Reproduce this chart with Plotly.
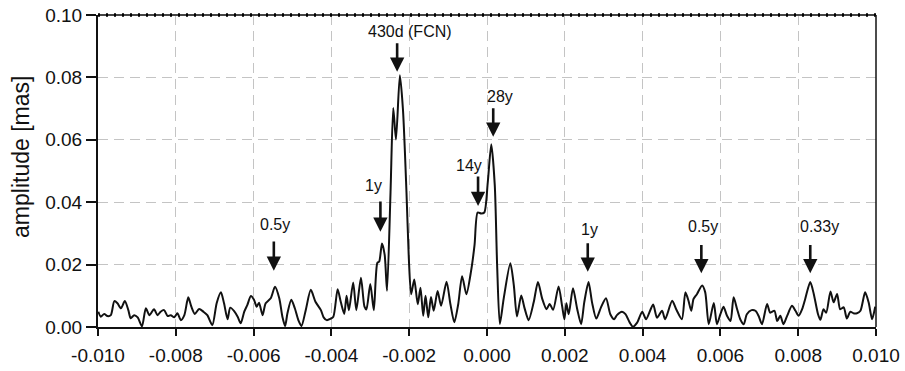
import plotly.graph_objects as go

# ---- data ----
freq = [
    -0.00999, -0.00993, -0.00984, -0.00976, -0.00967, -0.00958, -0.00950, -0.00941, -0.00931, -0.00922,
    -0.00916, -0.00907, -0.00898, -0.00887, -0.00877, -0.00868, -0.00856, -0.00847, -0.00839, -0.00830,
    -0.00821, -0.00813, -0.00804, -0.00796, -0.00787, -0.00778, -0.00768, -0.00760, -0.00751, -0.00740,
    -0.00729, -0.00719, -0.00706, -0.00695, -0.00684, -0.00676, -0.00667, -0.00660, -0.00650, -0.00641,
    -0.00633, -0.00624, -0.00616, -0.00607, -0.00599, -0.00592, -0.00586, -0.00577, -0.00569, -0.00556,
    -0.00545, -0.00534, -0.00526, -0.00519, -0.00513, -0.00503, -0.00494, -0.00485, -0.00477, -0.00466,
    -0.00453, -0.00441, -0.00427, -0.00420, -0.00412, -0.00403, -0.00395, -0.00384, -0.00376, -0.00367,
    -0.00361, -0.00355, -0.00344, -0.00336, -0.00324, -0.00315, -0.00310, -0.00300, -0.00291, -0.00282,
    -0.00277, -0.00270, -0.00263, -0.00257, -0.00248, -0.00241, -0.00234, -0.00224, -0.00216, -0.00207,
    -0.00201, -0.00195, -0.00187, -0.00178, -0.00171, -0.00164, -0.00158, -0.00151, -0.00144, -0.00137,
    -0.00127, -0.00118, -0.00104, -0.00094, -0.00084, -0.00074, -0.00064, -0.00053, -0.00041, -0.00032,
    -0.00024, -0.00015, -0.00007, 0.00002, 0.00011, 0.00020, 0.00026, 0.00033, 0.00043, 0.00060,
    0.00069, 0.00077, 0.00088, 0.00096, 0.00107, 0.00120, 0.00131, 0.00142, 0.00153, 0.00161,
    0.00170, 0.00184, 0.00193, 0.00199, 0.00204, 0.00210, 0.00221, 0.00232, 0.00242, 0.00250,
    0.00261, 0.00270, 0.00281, 0.00293, 0.00306, 0.00317, 0.00327, 0.00334, 0.00347, 0.00356,
    0.00367, 0.00375, 0.00386, 0.00399, 0.00409, 0.00427, 0.00437, 0.00450, 0.00458, 0.00476,
    0.00487, 0.00501, 0.00510, 0.00518, 0.00525, 0.00531, 0.00540, 0.00553, 0.00561, 0.00570,
    0.00583, 0.00591, 0.00600, 0.00608, 0.00617, 0.00626, 0.00634, 0.00643, 0.00651, 0.00660,
    0.00668, 0.00680, 0.00690, 0.00698, 0.00707, 0.00720, 0.00728, 0.00739, 0.00746, 0.00754,
    0.00762, 0.00771, 0.00784, 0.00793, 0.00801, 0.00810, 0.00818, 0.00831, 0.00840, 0.00851,
    0.00857, 0.00865, 0.00872, 0.00883, 0.00891, 0.00900, 0.00908, 0.00917, 0.00925, 0.00934,
    0.00942, 0.00951, 0.00960, 0.00972, 0.00981, 0.00990, 0.00998,
]
amp = [
    0.0049, 0.0033, 0.0042, 0.0035, 0.0038, 0.0083, 0.0076, 0.0060, 0.0083, 0.0054,
    0.0028, 0.0038, 0.0031, 0.0002, 0.0060, 0.0038, 0.0057, 0.0038, 0.0049, 0.0054,
    0.0035, 0.0038, 0.0031, 0.0044, 0.0022, 0.0038, 0.0095, 0.0065, 0.0042, 0.0058,
    0.0049, 0.0038, 0.0006, 0.0076, 0.0111, 0.0076, 0.0025, 0.0062, 0.0051, 0.0033,
    0.0012, 0.0049, 0.0071, 0.0099, 0.0087, 0.0065, 0.0078, 0.0038, 0.0076, 0.0092,
    0.0129, 0.0092, 0.0033, 0.0003, 0.0044, 0.0087, 0.0060, 0.0022, 0.0003, 0.0054,
    0.0119, 0.0081, 0.0054, 0.0031, 0.0022, 0.0026, 0.0033, 0.0121, 0.0081, 0.0042,
    0.0100, 0.0054, 0.0143, 0.0054, 0.0158, 0.0065, 0.0056, 0.0138, 0.0054, 0.0205,
    0.0210, 0.0268, 0.0231, 0.0116, 0.0432, 0.0702, 0.0601, 0.0807, 0.0696, 0.0432,
    0.0221, 0.0105, 0.0152, 0.0073, 0.0126, 0.0036, 0.0100, 0.0031, 0.0096, 0.0052,
    0.0115, 0.0068, 0.0145, 0.0073, 0.0015, 0.0073, 0.0163, 0.0105, 0.0179, 0.0263,
    0.0367, 0.0364, 0.0367, 0.0464, 0.0586, 0.0454, 0.0200, 0.0010, 0.0092, 0.0204,
    0.0133, 0.0034, 0.0101, 0.0063, 0.0022, 0.0079, 0.0144, 0.0090, 0.0057, 0.0074,
    0.0055, 0.0130, 0.0068, 0.0025, 0.0076, 0.0041, 0.0124, 0.0057, 0.0009, 0.0079,
    0.0144, 0.0079, 0.0027, 0.0063, 0.0092, 0.0041, 0.0025, 0.0038, 0.0049, 0.0041,
    0.0014, 0.0001, 0.0014, 0.0049, 0.0025, 0.0072, 0.0030, 0.0052, 0.0025, 0.0084,
    0.0055, 0.0025, 0.0111, 0.0084, 0.0052, 0.0090, 0.0106, 0.0133, 0.0111, 0.0009,
    0.0077, 0.0009, 0.0041, 0.0065, 0.0036, 0.0019, 0.0095, 0.0057, 0.0025, 0.0009,
    0.0041, 0.0054, 0.0052, 0.0036, 0.0009, 0.0074, 0.0046, 0.0052, 0.0019, 0.0036,
    0.0009, 0.0034, 0.0068, 0.0052, 0.0036, 0.0057, 0.0090, 0.0144, 0.0106, 0.0041,
    0.0023, 0.0057, 0.0046, 0.0114, 0.0079, 0.0106, 0.0057, 0.0063, 0.0027, 0.0049,
    0.0044, 0.0044, 0.0052, 0.0111, 0.0079, 0.0025, 0.0065,
]

x_ticks = [-0.010, -0.008, -0.006, -0.004, -0.002, 0.000, 0.002, 0.004, 0.006, 0.008, 0.010]
x_tick_labels = ["-0.010", "-0.008", "-0.006", "-0.004", "-0.002", "0.000",
                 "0.002", "0.004", "0.006", "0.008", "0.010"]
y_ticks = [0.00, 0.02, 0.04, 0.06, 0.08, 0.10]
y_tick_labels = ["0.00", "0.02", "0.04", "0.06", "0.08", "0.10"]

peak_labels = ["0.5y", "1y", "430d (FCN)", "14y", "28y", "1y", "0.5y", "0.33y"]
label_x = [-0.00544, -0.00291, -0.00199, -0.00047, 0.00034, 0.00264, 0.00554, 0.00855]
label_y = [0.0330, 0.0455, 0.0946, 0.0519, 0.0740, 0.0311, 0.0321, 0.0321]
arrow_x = [-0.00548, -0.00274, -0.00231, -0.00023, 0.00016, 0.00259, 0.00551, 0.00831]
arrow_tail_y = [0.0279, 0.0407, 0.0914, 0.0487, 0.0706, 0.0273, 0.0268, 0.0268]
arrow_head_y = [0.0180, 0.0305, 0.0818, 0.0388, 0.0610, 0.0177, 0.0172, 0.0172]

FONT = "Liberation Sans, Arial, sans-serif"

fig = go.Figure()
fig.add_trace(go.Scatter(
    x=freq, y=amp, mode="lines",
    line=dict(color="#111111", width=2, shape="spline", smoothing=0.7),
    showlegend=False, hoverinfo="skip",
))

annotations = []
for t, lx, ly in zip(peak_labels, label_x, label_y):
    annotations.append(dict(x=lx, y=ly, xref="x", yref="y", text=t, showarrow=False,
                            font=dict(family=FONT, size=16, color="#111111"),
                            xanchor="center", yanchor="middle"))
for ax_, ty, hy in zip(arrow_x, arrow_tail_y, arrow_head_y):
    annotations.append(dict(x=ax_, y=hy, ax=ax_, ay=ty, xref="x", yref="y",
                            axref="x", ayref="y", text="", showarrow=True,
                            arrowhead=2, arrowsize=1.1, arrowwidth=2.6,
                            arrowcolor="#111111", standoff=0, startstandoff=0))
annotations.append(dict(x=-0.099, y=0.545, xref="paper", yref="paper",
                        text="amplitude [mas]", textangle=-90, showarrow=False,
                        font=dict(family=FONT, size=23, color="#111111"),
                        xanchor="center", yanchor="middle"))

shapes = [
    dict(type="line", xref="paper", yref="paper", x0=0, x1=1, y0=1, y1=1,
         line=dict(color="#444444", width=2)),
    dict(type="line", xref="paper", yref="paper", x0=0, x1=1, y0=1, y1=1,
         line=dict(color="#000000", width=3.5, dash="2px,6px")),
    dict(type="line", xref="paper", yref="paper", x0=1, x1=1, y0=0, y1=1,
         line=dict(color="#111111", width=1.5)),
]

grid_color = "#c4c4c4"
fig.update_layout(
    width=905, height=371,
    margin=dict(l=98, r=29, t=15, b=44, autoexpand=False),
    paper_bgcolor="white", plot_bgcolor="white",
    font=dict(family=FONT, color="#111111"),
    annotations=annotations, shapes=shapes,
    xaxis=dict(range=[-0.010, 0.010], tickvals=x_ticks, ticktext=x_tick_labels,
               showgrid=True, gridcolor=grid_color, gridwidth=1.3, griddash="10px,6px",
               showline=True, linecolor="#111111", linewidth=2,
               ticks="outside", ticklen=7, tickwidth=1.5, tickcolor="#111111",
               ticklabelstandoff=3, automargin=False,
               tickfont=dict(family=FONT, size=19, color="#111111"),
               zeroline=False, fixedrange=True),
    yaxis=dict(range=[0, 0.10], tickvals=y_ticks, ticktext=y_tick_labels,
               showgrid=True, gridcolor=grid_color, gridwidth=1.3, griddash="10px,6px",
               showline=True, linecolor="#111111", linewidth=2,
               ticks="outside", ticklen=10, tickwidth=1.5, tickcolor="#111111",
               automargin=False,
               tickfont=dict(family=FONT, size=19, color="#111111"),
               zeroline=False, fixedrange=True),
)

fig.write_html("out.html")
